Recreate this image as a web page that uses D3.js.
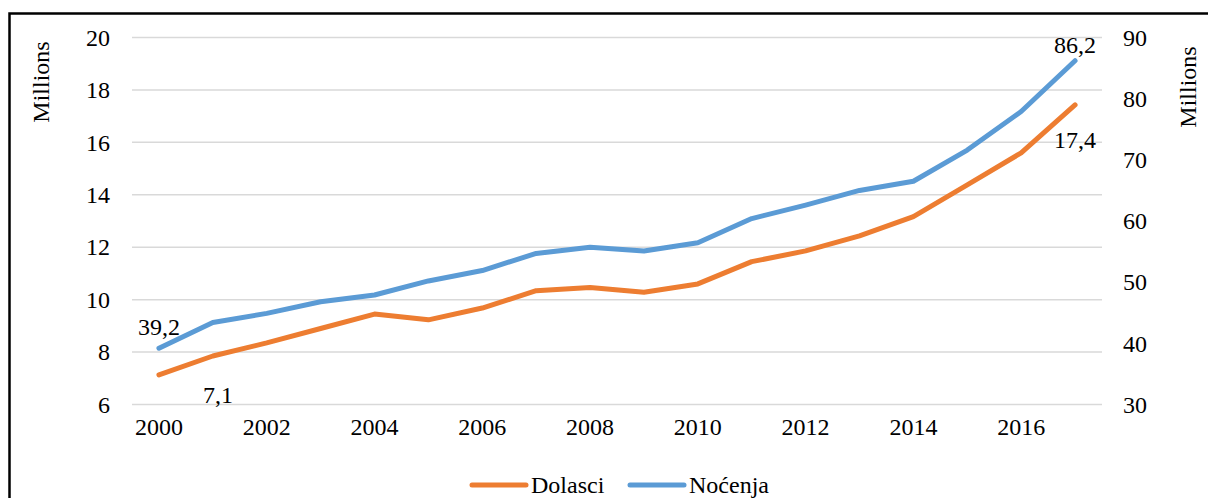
<!DOCTYPE html>
<html>
<head>
<meta charset="utf-8">
<script src="https://cdn.jsdelivr.net/npm/d3@7"></script>
<style>
  body { margin: 0; background: #fff; }
  svg { display: block; }
  svg text { font-family: "Liberation Serif", "Times New Roman", Times, serif !important; fill: #000; }
</style>
</head>
<body>
<div id="chart"></div>
<script>
// data (millions)
var years = [2000, 2001, 2002, 2003, 2004, 2005, 2006, 2007, 2008, 2009, 2010, 2011, 2012, 2013, 2014, 2015, 2016, 2017];
var dolasci = [7.13, 7.85, 8.35, 8.9, 9.45, 9.23, 9.68, 10.34, 10.46, 10.28, 10.6, 11.45, 11.86, 12.43, 13.17, 14.38, 15.6, 17.43];
var nocenja = [39.2, 43.4, 44.9, 46.8, 47.9, 50.2, 51.9, 54.7, 55.7, 55.1, 56.45, 60.4, 62.6, 65.0, 66.5, 71.6, 77.9, 86.2];
var leftTicks = [6, 8, 10, 12, 14, 16, 18, 20];
var rightTicks = [30, 40, 50, 60, 70, 80, 90];
var xTickLabels = [2000, 2002, 2004, 2006, 2008, 2010, 2012, 2014, 2016];
var seriesNames = ["Dolasci", "Noćenja"];
var colors = ["#ED7D31", "#5B9BD5"];

var W = 1208, H = 498;
var margin = { top: 37.5, right: 106, bottom: 93.5, left: 132 };
var width = W - margin.left - margin.right;
var height = H - margin.top - margin.bottom;
var fs = "24px";

var root = d3.select("#chart").append("svg")
    .attr("width", W)
    .attr("height", H);

// outer frame
root.append("rect")
    .attr("x", 9.5).attr("y", 13.5)
    .attr("width", 1220).attr("height", 520)
    .attr("fill", "none")
    .attr("stroke", "#000")
    .attr("stroke-width", 2.5);

var svg = root.append("g")
    .attr("transform", "translate(" + margin.left + "," + margin.top + ")");

var x = d3.scaleBand()
    .domain(years)
    .range([0, width]);

var cx = d => x(d) + x.bandwidth() / 2;

var yL = d3.scaleLinear().domain([6, 20]).range([height, 0]);
var yR = d3.scaleLinear().domain([30, 90]).range([height, 0]);

// gridlines
svg.append("g")
    .selectAll("line")
    .data(leftTicks)
    .enter()
    .append("line")
    .attr("x1", 0).attr("x2", width)
    .attr("y1", d => yL(d)).attr("y2", d => yL(d))
    .attr("stroke", "#d9d9d9")
    .attr("stroke-width", 1.5);

// left axis
var axL = svg.append("g")
    .call(d3.axisLeft(yL).tickValues(leftTicks).tickSize(0).tickPadding(22));
axL.select(".domain").remove();
axL.selectAll("text").style("font-size", fs);

// right axis
var axR = svg.append("g")
    .attr("transform", `translate(${width},0)`)
    .call(d3.axisRight(yR).tickValues(rightTicks).tickSize(0).tickPadding(21));
axR.select(".domain").remove();
axR.selectAll("text").style("font-size", fs);

// x axis
var axX = svg.append("g")
    .attr("transform", `translate(0,${height})`)
    .call(d3.axisBottom(x).tickValues(xTickLabels).tickSize(0).tickPadding(13));
axX.select(".domain").remove();
axX.selectAll("text").style("font-size", fs);

// axis titles
root.append("text")
    .attr("transform", "translate(49,82) rotate(-90)")
    .attr("text-anchor", "middle")
    .style("font-size", fs)
    .text("Millions");

root.append("text")
    .attr("transform", "translate(1196,87) rotate(-90)")
    .attr("text-anchor", "middle")
    .style("font-size", fs)
    .text("Millions");

// lines
var lineL = d3.line().x((d, i) => cx(years[i])).y(d => yL(d));
var lineR = d3.line().x((d, i) => cx(years[i])).y(d => yR(d));

svg.append("path")
    .datum(dolasci)
    .attr("fill", "none")
    .attr("stroke", colors[0])
    .attr("stroke-width", 5)
    .attr("stroke-linejoin", "round")
    .attr("stroke-linecap", "round")
    .attr("d", lineL);

svg.append("path")
    .datum(nocenja)
    .attr("fill", "none")
    .attr("stroke", colors[1])
    .attr("stroke-width", 5)
    .attr("stroke-linejoin", "round")
    .attr("stroke-linecap", "round")
    .attr("d", lineR);

// data labels
var fmt = v => d3.format(".1f")(v).replace(".", ",");
var last = years.length - 1;
var labels = [
    { t: fmt(nocenja[0]), x: cx(years[0]), y: yR(nocenja[0]) - 22 },
    { t: fmt(dolasci[0]), x: cx(years[0]) + 59, y: yL(dolasci[0]) + 20 },
    { t: fmt(nocenja[last]), x: cx(years[last]), y: yR(nocenja[last]) - 16 },
    { t: fmt(dolasci[last]), x: cx(years[last]), y: yL(dolasci[last]) + 35 }
];
svg.selectAll(".dlabel")
    .data(labels)
    .enter()
    .append("text")
    .attr("class", "dlabel")
    .attr("x", d => d.x)
    .attr("y", d => d.y)
    .attr("dy", "0.35em")
    .attr("text-anchor", "middle")
    .style("font-size", fs)
    .text(d => d.t);

// legend
var legend = root.append("g").attr("transform", "translate(472,485)");
var lx = [0, 158];
seriesNames.forEach(function (n, i) {
    var g = legend.append("g").attr("transform", `translate(${lx[i]},0)`);
    g.append("line")
        .attr("x1", 0).attr("x2", 54)
        .attr("y1", 0).attr("y2", 0)
        .attr("stroke", colors[i])
        .attr("stroke-width", 5)
        .attr("stroke-linecap", "round");
    g.append("text")
        .attr("x", 59)
        .attr("y", 0)
        .attr("dy", "0.35em")
        .style("font-size", fs)
        .text(n);
});
</script>
</body>
</html>
